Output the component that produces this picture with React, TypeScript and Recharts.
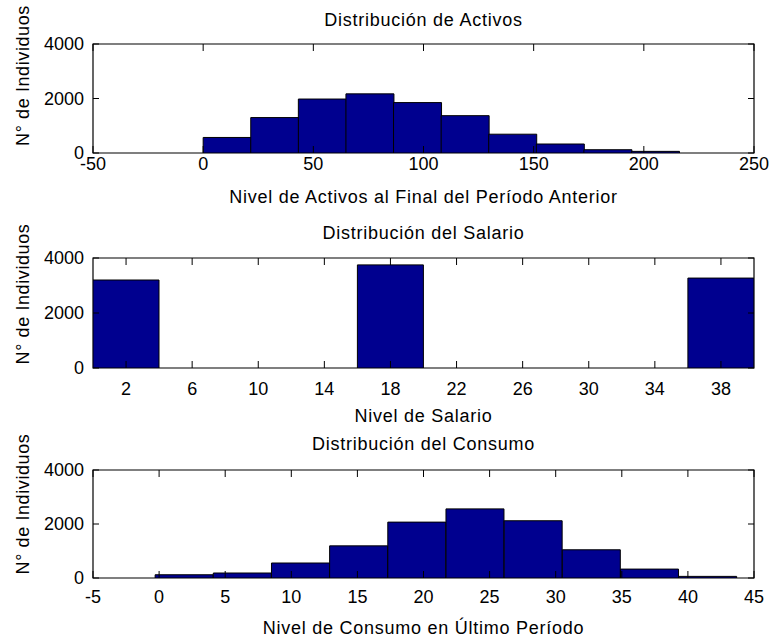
import { Bar, BarChart, Label, ReferenceArea, XAxis, YAxis } from "recharts";

// Histogram bins: centers and counts per bin
const activosCentros = [10.8, 32.4, 54, 75.6, 97.2, 118.8, 140.4, 162, 183.6, 205.2];
const activosFrecuencia = [570, 1300, 1980, 2170, 1850, 1370, 690, 330, 120, 60];
const activosTicks = [-50, 0, 50, 100, 150, 200, 250];

const salarioCentros = [2, 6, 10, 14, 18, 22, 26, 30, 34, 38];
const salarioFrecuencia = [3200, 0, 0, 0, 3750, 0, 0, 0, 0, 3270];
const salarioTicks = [2, 6, 10, 14, 18, 22, 26, 30, 34, 38];

const consumoCentros = [1.9, 6.3, 10.7, 15.1, 19.5, 23.9, 28.3, 32.7, 37.1, 41.5];
const consumoFrecuencia = [120, 185, 555, 1190, 2070, 2560, 2120, 1045, 330, 60];
const consumoTicks = [-5, 0, 5, 10, 15, 20, 25, 30, 35, 40, 45];

const frecuenciaTicks = [0, 2000, 4000];

const FONT = "'Liberation Sans', Arial, Helvetica, sans-serif";
const ANCHO = 773;
const IZQ = 93;
const DER = 754;
const MARGEN_SUP = 40;
const ALTO_EJE_X = 62;
const TICK = 7;

interface HistProps {
	titulo: string;
	etiquetaX: string;
	centros: number[];
	frecuencias: number[];
	dominio: [number, number];
	ticksX: number[];
	top: number; // top of the axes box on the page
	alto: number; // height of the axes box
	dyTickX: number;
	dyEtiquetaX: number;
	dyTitulo: number;
	dyEtiquetaY: number;
}

function Histograma({
	titulo,
	etiquetaX,
	centros,
	frecuencias,
	dominio,
	ticksX,
	top,
	alto,
	dyTickX,
	dyEtiquetaX,
	dyTitulo,
	dyEtiquetaY,
}: HistProps) {
	const data = centros.map((c, i) => ({ centro: c, n: frecuencias[i] }));
	const plotTop = MARGEN_SUP;
	const plotBottom = MARGEN_SUP + alto;
	const centroX = (IZQ + DER) / 2;

	// MATLAB-style ticks: pointing inward on both sides of the box
	const tickX = (props: any) => {
		const { x, payload } = props;
		return (
			<g>
				<line x1={x} x2={x} y1={plotBottom} y2={plotBottom - TICK} stroke="#000" />
				<line x1={x} x2={x} y1={plotTop} y2={plotTop + TICK} stroke="#000" />
				<text
					x={x}
					y={plotBottom + dyTickX}
					dy="0.36em"
					textAnchor="middle"
					fontFamily={FONT}
					fontSize={18}
					fill="#000"
				>
					{payload.value}
				</text>
			</g>
		);
	};

	const tickY = (props: any) => {
		const { y, payload } = props;
		return (
			<g>
				<line x1={IZQ} x2={IZQ + 6} y1={y} y2={y} stroke="#000" />
				<line x1={DER - 6} x2={DER} y1={y} y2={y} stroke="#000" />
				<text
					x={84}
					y={y}
					dy="0.36em"
					textAnchor="end"
					fontFamily={FONT}
					fontSize={18}
					fill="#000"
				>
					{payload.value}
				</text>
			</g>
		);
	};

	const yMedio = (plotTop + plotBottom) / 2 + dyEtiquetaY;

	return (
		<div style={{ position: "absolute", left: 0, top: top - MARGEN_SUP }}>
			<BarChart
				width={ANCHO}
				height={alto + MARGEN_SUP + ALTO_EJE_X}
				data={data}
				margin={{ top: MARGEN_SUP, right: ANCHO - DER, bottom: 0, left: 0 }}
				barCategoryGap={0}
				barGap={0}
			>
				<XAxis
					type="number"
					dataKey="centro"
					domain={dominio}
					ticks={ticksX}
					interval={0}
					allowDataOverflow
					height={ALTO_EJE_X}
					axisLine={false}
					tickLine={false}
					tick={tickX}
				>
					<Label
						content={() => (
							<text
								x={centroX}
								y={plotBottom + dyEtiquetaX}
								dy="0.36em"
								textAnchor="middle"
								fontFamily={FONT}
								fontSize={18}
								letterSpacing={0.75}
								fill="#000"
							>
								{etiquetaX}
							</text>
						)}
					/>
				</XAxis>
				<YAxis
					domain={[0, 4000]}
					ticks={frecuenciaTicks}
					interval={0}
					allowDataOverflow
					width={IZQ}
					axisLine={false}
					tickLine={false}
					tick={tickY}
				>
					<Label
						content={() => (
							<g>
								<text
									x={23}
									y={yMedio}
									dy="0.36em"
									textAnchor="middle"
									transform={`rotate(-90 23 ${yMedio})`}
									fontFamily={FONT}
									fontSize={18}
									letterSpacing={0.6}
									fill="#000"
								>
									N° de Individuos
								</text>
								<text
									x={centroX}
									y={plotTop + dyTitulo}
									dy="0.36em"
									textAnchor="middle"
									fontFamily={FONT}
									fontSize={18}
									letterSpacing={0.75}
									fill="#000"
								>
									{titulo}
								</text>
							</g>
						)}
					/>
				</YAxis>
				<Bar
					dataKey="n"
					fill="#00008F"
					stroke="#000"
					strokeWidth={1}
					isAnimationActive={false}
				/>
				<ReferenceArea
					x1={dominio[0]}
					x2={dominio[1]}
					y1={0}
					y2={4000}
					fill="none"
					fillOpacity={0}
					stroke="#000"
					strokeWidth={1.2}
				/>
			</BarChart>
		</div>
	);
}

export default function App() {
	return (
		<div
			style={{
				position: "absolute",
				left: 0,
				top: 0,
				width: ANCHO,
				height: 640,
				background: "#fff",
			}}
		>
			<Histograma
				titulo="Distribución de Activos"
				etiquetaX="Nivel de Activos al Final del Período Anterior"
				centros={activosCentros}
				frecuencias={activosFrecuencia}
				dominio={[-50, 250]}
				ticksX={activosTicks}
				top={44}
				alto={109}
				dyTickX={11}
				dyEtiquetaX={44}
				dyTitulo={-24}
				dyEtiquetaY={-23}
			/>
			<Histograma
				titulo="Distribución del Salario"
				etiquetaX="Nivel de Salario"
				centros={salarioCentros}
				frecuencias={salarioFrecuencia}
				dominio={[0, 40]}
				ticksX={salarioTicks}
				top={258}
				alto={110}
				dyTickX={21}
				dyEtiquetaX={48}
				dyTitulo={-25}
				dyEtiquetaY={-19}
			/>
			<Histograma
				titulo="Distribución del Consumo"
				etiquetaX="Nivel de Consumo en Último Período"
				centros={consumoCentros}
				frecuencias={consumoFrecuencia}
				dominio={[-5, 45]}
				ticksX={consumoTicks}
				top={470}
				alto={108}
				dyTickX={19}
				dyEtiquetaX={50}
				dyTitulo={-26}
				dyEtiquetaY={-20}
			/>
		</div>
	);
}
